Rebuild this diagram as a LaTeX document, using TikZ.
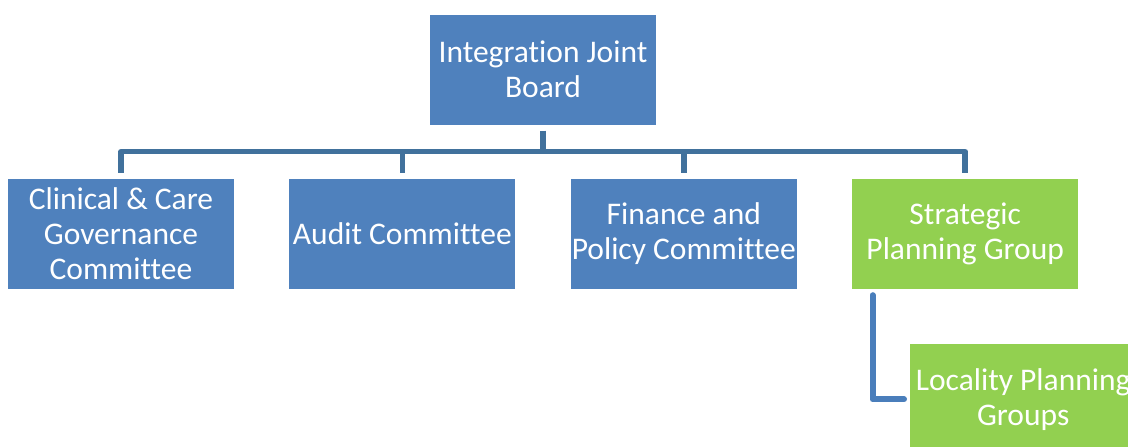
\documentclass[tikz,border=0pt]{standalone}
\usepackage{fontspec}
\setmainfont{Carlito}[Ligatures=NoCommon]
\usepackage{tikz}
\usetikzlibrary{
  positioning,
  calc,
}
\definecolor{orgBlue}{HTML}{4F81BD}
\definecolor{orgGreen}{HTML}{92D050}
\definecolor{linkBlue}{HTML}{41719C}
\definecolor{elbowBlue}{HTML}{4A7EBB}
\tikzset{
  orgbox/.style={
    rectangle, fill=#1, text=white, inner xsep=0pt, inner ysep=2pt,
    minimum width=226pt, minimum height=110pt, align=center,
    font=\fontsize{31.5}{35}\selectfont,
  },
  orgbox/.default=orgBlue,
  linkBus/.style={
    draw=linkBlue, line width=5.5pt, line join=round,
  },
  linkSub/.style={
    draw=elbowBlue, line width=6pt, line join=round, line cap=round,
  },
}

\begin{document}
\begin{tikzpicture}[x=1pt,y=-1pt]
\useasboundingbox (0,0) rectangle (1128,447);

\node[orgbox] (ijb) at (543,69.5) {Integration Joint\\Board};

\node[orgbox] (clinical) at (121,234) {Clinical \& Care\\Governance\\Committee};
\node[orgbox, right=55pt of clinical] (audit) {Audit Committee};
\node[orgbox, right=55pt of audit] (finance) {Finance and\\Policy Committee};
\node[orgbox=orgGreen, right=55pt of finance] (strategic) {Strategic\\Planning Group};

\node[orgbox=orgGreen, anchor=north west] (locality)
  at ([xshift=58pt,yshift=-55pt]strategic.south west) {Locality Planning\\Groups};

% bus from the board down to the committees
\draw[linkBus] ([yshift=-6pt]ijb.south) -- ++(0,21) coordinate (bus);
\draw[linkBus] ([yshift=6pt]clinical.north) |- (bus) -| ([yshift=6pt]strategic.north);
\draw[linkBus] ([yshift=6pt]audit.north) -- (audit.north |- bus);
\draw[linkBus] ([yshift=6pt]finance.north) -- (finance.north |- bus);

\draw[linkSub] ([xshift=20.5pt,yshift=-6pt]strategic.south west) |- ([xshift=-6pt]locality.west);

\end{tikzpicture}
\end{document}
